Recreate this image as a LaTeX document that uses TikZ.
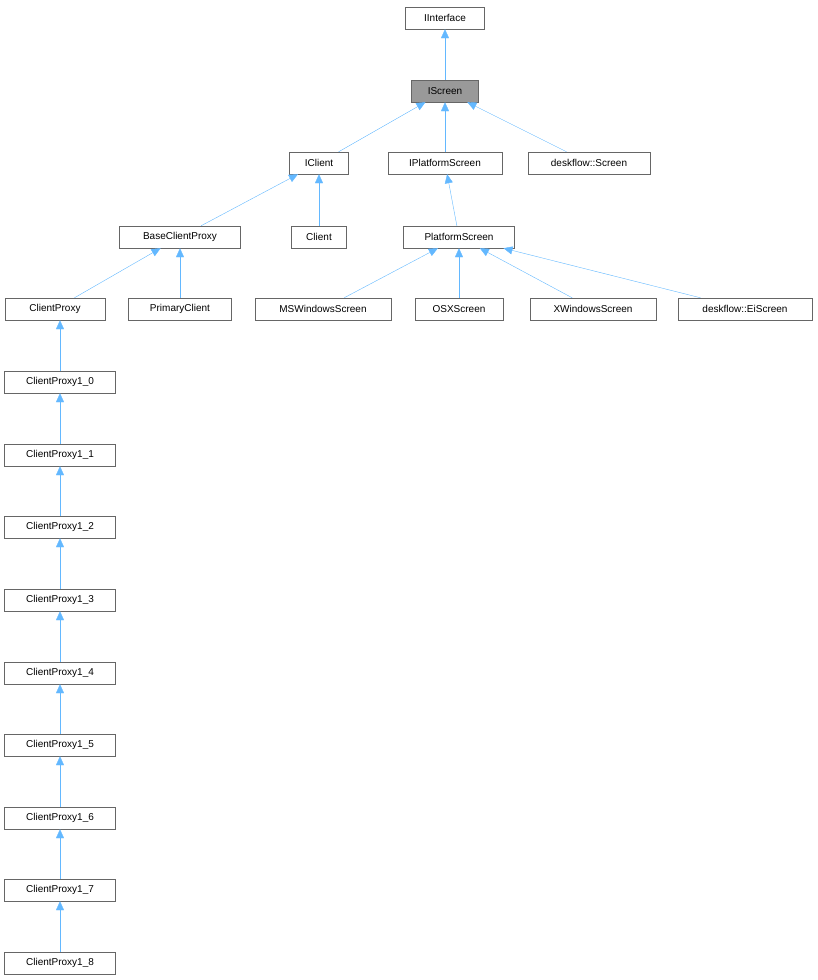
\documentclass[tikz,border=0pt]{standalone}
\usepackage{fontspec}
\setmainfont{Liberation Sans}
\usetikzlibrary{arrows.meta}
\definecolor{edgeblue}{HTML}{63B8FF}
\definecolor{boxgray}{HTML}{666666}
\definecolor{curfill}{HTML}{999999}
\tikzset{
  cls/.style={draw=boxgray, fill=white, minimum height=22pt, inner sep=0pt,
    font=\fontsize{10}{12}\selectfont},
  inh/.style={draw=edgeblue, -{Triangle[width=8pt,length=9pt,fill=edgeblue]}}
}
\begin{document}
\begin{tikzpicture}[x=1pt,y=-1pt]
    \useasboundingbox (0,0) rectangle (818,980);

    % Screen side
    \node[cls, minimum width=79pt] (iinterface) at (445,18) {IInterface};
    \node[cls, minimum width=67pt, fill=curfill] (iscreen) at (445,91) {IScreen};
    \node[cls, minimum width=59pt] (iclient) at (319,163) {IClient};
    \node[cls, minimum width=114pt] (iplatform) at (445,163) {IPlatformScreen};
    \node[cls, minimum width=122pt] (dfscreen) at (589,163) {deskflow::Screen};
    \node[cls, minimum width=121pt] (baseproxy) at (180,237) {BaseClientProxy};
    \node[cls, minimum width=55pt] (client) at (319,237) {Client};
    \node[cls, minimum width=111pt] (platform) at (459,237) {PlatformScreen};
    \node[cls, minimum width=100pt] (proxy) at (55,309) {ClientProxy};
    \node[cls, minimum width=103pt] (primary) at (180,309) {PrimaryClient};
    \node[cls, minimum width=136pt] (mswin) at (323,309) {MSWindowsScreen};
    \node[cls, minimum width=88pt] (osx) at (459,309) {OSXScreen};
    \node[cls, minimum width=126pt] (xwin) at (593,309) {XWindowsScreen};
    \node[cls, minimum width=134pt] (eiscreen) at (745,309) {deskflow::EiScreen};

    % ClientProxy chain
    \foreach \i/\y in {0/382,1/455,2/527,3/600,4/673,5/745,6/818,7/890,8/963}
      \node[cls, minimum width=111pt] (proxy\i) at (60,\y) {ClientProxy1\_\i};

    % Inheritance edges
    \draw[inh] (iscreen) -- (iinterface);
    \draw[inh] (iclient) -- (iscreen);
    \draw[inh] (iplatform) -- (iscreen);
    \draw[inh] (dfscreen) -- (iscreen);
    \draw[inh] (baseproxy) -- (iclient);
    \draw[inh] (client) -- (iclient);
    \draw[inh] (platform) -- (iplatform);
    \draw[inh] (proxy) -- (baseproxy);
    \draw[inh] (primary) -- (baseproxy);
    \draw[inh] (mswin) -- (platform);
    \draw[inh] (osx) -- (platform);
    \draw[inh] (xwin) -- (platform);
    \draw[inh] (eiscreen) -- (platform);
    \draw[inh] (proxy0.north) -- (proxy0.north |- proxy.south);
    \foreach \i [evaluate=\i as \j using int(\i-1)] in {1,...,8}
      \draw[inh] (proxy\i) -- (proxy\j);
\end{tikzpicture}
\end{document}
